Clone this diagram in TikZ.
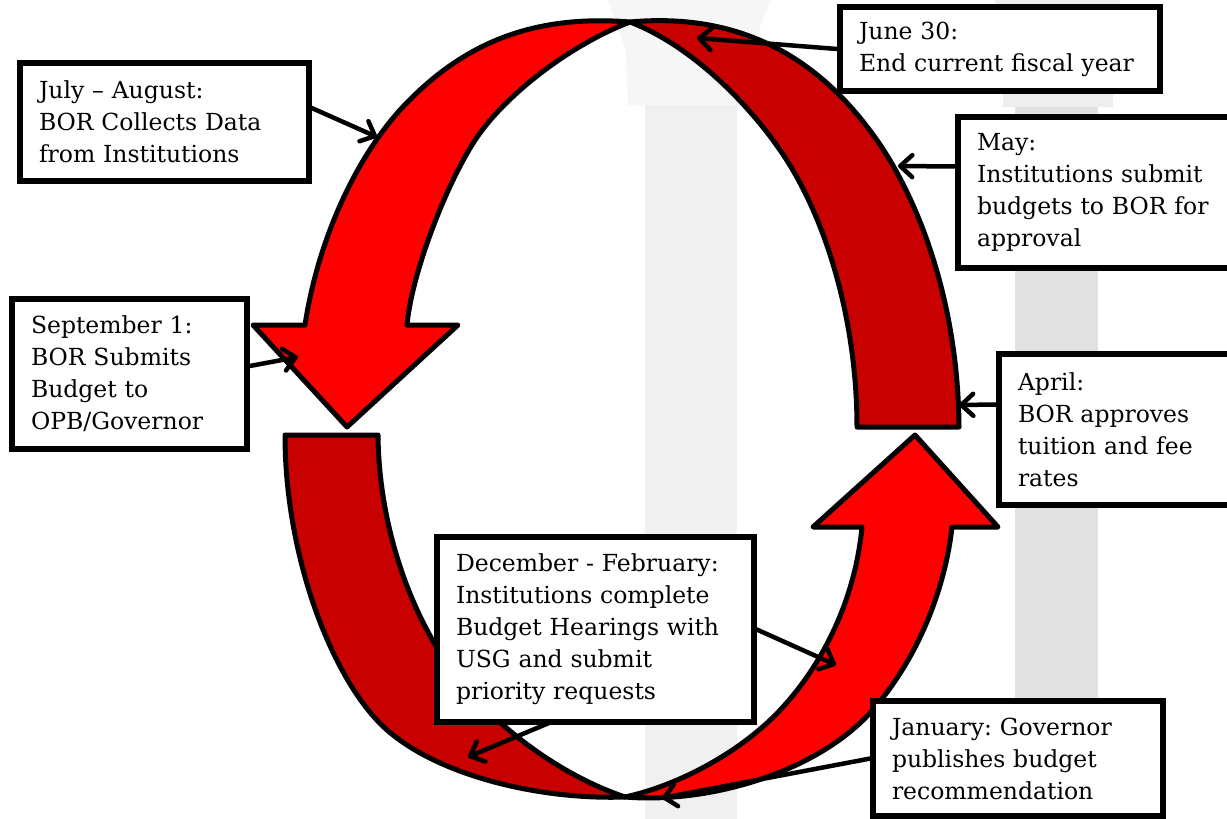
\documentclass[tikz,border=0pt]{standalone}
\usepackage{fontspec}
\setmainfont{DejaVu Serif}
\usetikzlibrary{arrows.meta,calc}
\definecolor{brightred}{HTML}{FF0000}
\definecolor{darkred}{HTML}{C80000}
\definecolor{colA}{HTML}{F0F0F0}
\definecolor{colAcap}{HTML}{F6F6F6}
\definecolor{colB}{HTML}{E1E1E1}
\definecolor{colBcap}{HTML}{EEEEEE}
\frenchspacing
\begin{document}
\begin{tikzpicture}[x=1pt,y=-1pt,
  box/.style={draw=black, line width=5.5pt, fill=white, inner xsep=19pt, inner ysep=0pt,
    align=left, font=\fontsize{23.5pt}{32pt}\selectfont},
  band/.style={draw=black, line width=5pt, line join=round},
  conn/.style={draw=black, line width=4.5pt, line cap=round,
    -{Straight Barb[length=12pt,width=22pt,line cap=round,line join=round]}},
]
\useasboundingbox (0,0) rectangle (1227,819);
\fill[white] (0,0) rectangle (1227,819);

% background columns
\fill[colAcap] (608,0) -- (770,0) -- (752,50) -- (750,105) -- (628,105) -- (626,50) -- cycle;
\fill[colA] (645,105) rectangle (737,819);
\fill[colBcap] (995,0) -- (1120,0) -- (1113,90) -- (1113,107) -- (1003,107) -- (1003,90) -- cycle;
\fill[colB] (1015,107) rectangle (1098,819);

% dark red bands
\filldraw[band, fill=darkred]
  (630,22) .. controls (740,12) and (815,58) .. (868,128)
  .. controls (911,183) and (958,290) .. (959,427)
  -- (857,427)
  .. controls (857,320) and (825.6,215.6) .. (780,150)
  .. controls (746,101) and (690,45) .. (630,22)
  -- cycle;
\filldraw[band, fill=darkred]
  (285,435) -- (378,435)
  .. controls (379,540) and (420,633) .. (462,683)
  .. controls (500,729) and (560,775) .. (625,797)
  .. controls (540,800) and (439.5,776) .. (387,730)
  .. controls (334.5,684) and (285,560) .. (285,435)
  -- cycle;

% bright red arrows
\filldraw[band, fill=brightred]
  (630,22) .. controls (530,14) and (460,45) .. (400,110)
  .. controls (355,160) and (318,240) .. (305,325)
  -- (253,325) -- (347,427) -- (458,325) -- (407,325)
  .. controls (412,270) and (450.5,173.5) .. (480,133)
  .. controls (509.5,92.5) and (570,45) .. (630,22)
  -- cycle;
\filldraw[band, fill=brightred]
  (625,797) .. controls (710,804) and (816,772) .. (870,713)
  .. controls (917,661) and (945,590) .. (952,527)
  -- (998,527) -- (915,435) -- (813,527) -- (862,527)
  .. controls (855,600) and (823,663) .. (783,707)
  .. controls (743,751) and (680,785) .. (625,797)
  -- cycle;

% boxes
\node[box, text width=251pt, minimum height=118pt] (july) at (164.5,122) {July – August:\\BOR Collects Data\\from Institutions};
\node[box, text width=197pt, minimum height=150pt] (sept) at (129.5,374) {September 1:\\BOR Submits\\Budget to\\OPB/Governor};
\node[box, text width=282pt, minimum height=84pt] (june) at (1000,49) {June 30:\\End current fiscal year};
\node[box, text width=244pt, minimum height=151pt] (may) at (1099,192.5) {May:\\Institutions submit\\budgets to BOR for\\approval};
\node[box, text width=203pt, minimum height=151pt] (april) at (1119.5,429.5) {April:\\BOR approves\\tuition and fee\\rates};
\node[box, text width=252pt, minimum height=115pt] (jan) at (1018,758.5) {January: Governor\\publishes budget\\recommendation};
\node[box, text width=279pt, minimum height=185pt] (dec) at (595.5,629.5) {December - February:\\Institutions complete\\Budget Hearings with\\USG and submit\\priority requests};

% connector targets
\coordinate (cA) at (377,137);
\coordinate (cB) at (298,357);
\coordinate (cC) at (697,38);
\coordinate (cD) at (898,166);
\coordinate (cE) at (959,405);
\coordinate (cF) at (836,665);
\coordinate (cG) at (468,757);
\coordinate (cH) at (662,798);

\draw[conn] ($(july.east)+(0,-14)$) -- (cA);
\draw[conn] ($(sept.east)+(0,-8)$) -- (cB);
\draw[conn] (june.west) -- (cC);
\draw[conn] ($(may.west)+(0,-26)$) -- (cD);
\draw[conn] ($(april.west)+(0,-25)$) -- (cE);
\draw[conn] (dec.east) -- (cF);
\draw[conn] ($(dec.south)+(-46,-2)$) -- (cG);
\draw[conn] (jan.west) -- (cH);
\end{tikzpicture}
\end{document}
